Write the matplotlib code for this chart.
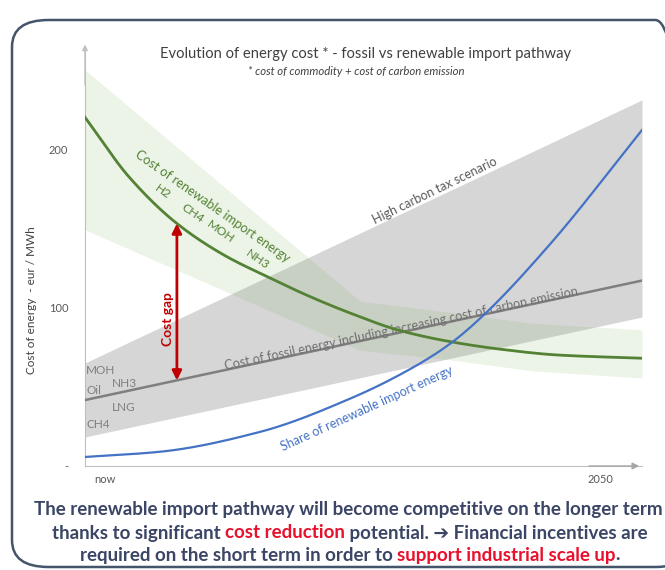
import numpy as np
import matplotlib.pyplot as plt
from matplotlib.patches import FancyBboxPatch

# x runs from 0 (left axis) to 100 (right end of data)
x_ticks = [3.6, 92.5]
x_tick_labels = ["now", "2050"]
y_ticks = [0, 100, 200]
y_tick_labels = ["-", "100", "200"]

# renewable import cost curve
ren_x = [0, 8, 16.5, 25, 33, 40, 47.6, 56.5, 65.5, 75, 85, 100]
ren_y = [220, 182, 153, 133, 119, 107.5, 96.5, 85.5, 78.5, 73.5, 70, 68]
# renewable uncertainty band
ren_band_x = [0, 49.4, 65.5, 80.4, 100]
ren_band_hi = [250, 104, 97, 90, 86]
ren_band_lo = [149, 73, 67, 60, 55.5]

# fossil cost line and band
fos_x = [0, 100]
fos_y = [41.6, 117]
fos_band_hi = [65, 231]
fos_band_lo = [18.3, 94]

# share of renewable import energy
share_x = [0, 13.5, 31.4, 47.6, 58.3, 65.5, 71.5, 83.5, 100]
share_y = [5.7, 9, 21.5, 42.5, 61, 77, 95, 140, 212]

gap_x = 16.5
gap_top = 153
gap_bottom = 54

plt.rcParams['font.family'] = ['Lato', 'DejaVu Sans']

fig = plt.figure(figsize=(6.65, 5.7), dpi=100)
ax = fig.add_axes([85 / 665, 1 - 466 / 570, 557 / 665, 420 / 570])

grid_x = np.linspace(0, 100, 400)


def smooth(xs, ys):
    # monotone cubic (Fritsch-Carlson) through the read points
    xs = np.asarray(xs, float)
    ys = np.asarray(ys, float)
    h = np.diff(xs)
    d = np.diff(ys) / h
    m = np.zeros_like(ys)
    m[0], m[-1] = d[0], d[-1]
    for i in range(1, len(xs) - 1):
        if d[i - 1] * d[i] > 0:
            w1 = 2 * h[i] + h[i - 1]
            w2 = h[i] + 2 * h[i - 1]
            m[i] = (w1 + w2) / (w1 / d[i - 1] + w2 / d[i])
    idx = np.clip(np.searchsorted(xs, grid_x) - 1, 0, len(xs) - 2)
    t = (grid_x - xs[idx]) / h[idx]
    h00 = 2 * t**3 - 3 * t**2 + 1
    h10 = t**3 - 2 * t**2 + t
    h01 = -2 * t**3 + 3 * t**2
    h11 = t**3 - t**2
    return (h00 * ys[idx] + h10 * h[idx] * m[idx] + h01 * ys[idx + 1]
            + h11 * h[idx] * m[idx + 1])


ax.fill_between(fos_x, fos_band_lo, fos_band_hi, color='#d6d6d6', lw=0, zorder=1)
ax.fill_between(ren_band_x, ren_band_lo, ren_band_hi, color='#5aa02c', alpha=0.11, lw=0, zorder=2)
ax.plot(fos_x, fos_y, color='#7f7f7f', lw=1.8, zorder=3)
ax.plot(grid_x, smooth(ren_x, ren_y), color='#548235', lw=2.0, zorder=4)
ax.plot(grid_x, smooth(share_x, share_y), color='#4472c4', lw=1.6, zorder=4)

ax.annotate('', xy=(gap_x, gap_top), xytext=(gap_x, gap_bottom),
            arrowprops=dict(arrowstyle='<|-|>', color='#c00000', lw=2,
                            mutation_scale=14, shrinkA=0, shrinkB=0), zorder=5)
ax.text(gap_x - 1.6, 93, 'Cost gap', rotation=90, color='#c00000', fontsize=10,
        fontweight='bold', ha='center', va='center')

ax.set_xlim(0, 100)
ax.set_ylim(0, 265)
ax.set_xticks(x_ticks, x_tick_labels)
ax.set_yticks(y_ticks, y_tick_labels)
ax.tick_params(length=0, labelsize=8, colors='#595959', pad=12)
ax.tick_params(axis='x', pad=6)
for s in ['top', 'right']:
    ax.spines[s].set_visible(False)
for s in ['left', 'bottom']:
    ax.spines[s].set_color('#bfbfbf')
ax.set_ylabel('Cost of energy  - eur / MWh', fontsize=8.5, color='#404040')
ax.yaxis.set_label_coords(-0.086, 0.395)

ax.annotate('', xy=(0, 1.01), xytext=(0, 0.9), xycoords='axes fraction',
            arrowprops=dict(arrowstyle='-|>', color='#bfbfbf', lw=1, mutation_scale=8))
ax.annotate('', xy=(1.0, 0), xytext=(0.9, 0), xycoords='axes fraction',
            arrowprops=dict(arrowstyle='-|>', color='#a6a6a6', lw=1, mutation_scale=10))

green = '#548235'
ax.text(22.8, 164, 'Cost of renewable import energy', rotation=-35, color=green,
        fontsize=9.3, ha='center', va='center', rotation_mode='anchor')
for lbl, xx, yy in [('H2', 13.9, 173), ('CH4', 19.3, 159.5), ('MOH', 24.4, 148), ('NH3', 31, 130)]:
    ax.text(xx, yy, lbl, rotation=-35, color=green, fontsize=8.8,
            ha='center', va='center', rotation_mode='anchor')

ax.text(62.8, 174, 'High carbon tax scenario', rotation=26, color='#595959',
        fontsize=9, ha='center', va='center', rotation_mode='anchor')
ax.text(56.8, 87, 'Cost of fossil energy including increasing cost of carbon emission',
        rotation=12, color='#6f6f6f', fontsize=9.1, ha='center', va='center',
        rotation_mode='anchor')
ax.text(50.6, 36, 'Share of renewable import energy', rotation=24.5, color='#4472c4',
        fontsize=9, ha='center', va='center', rotation_mode='anchor')

for lbl, xx, yy in [('MOH', 0.2, 60), ('NH3', 4.8, 52), ('Oil', 0.3, 47.5),
                    ('LNG', 4.9, 37), ('CH4', 0.3, 26)]:
    ax.text(xx, yy, lbl, color='#7f7f7f', fontsize=8.5, ha='left', va='center')

fig.text(366 / 665, 1 - 54 / 570, 'Evolution of energy cost * - fossil vs renewable import pathway',
         fontsize=10.6, color='#404040', ha='center', va='center')
fig.text(356 / 665, 1 - 72 / 570, '* cost of commodity + cost of carbon emission',
         fontsize=8.2, style='italic', color='#404040', ha='center', va='center')

navy = '#3b4565'
red = '#e8112d'
fs = 13.5
fig.text(348 / 665, 1 - 510 / 570,
         'The renewable import pathway will become competitive on the longer term',
         fontsize=fs, fontweight='bold', color=navy, ha='center', va='center')


def line_parts(y, parts):
    # lay out coloured pieces side by side, centred on the figure
    r = fig.canvas.get_renderer()
    texts = []
    for s, c in parts:
        t = fig.text(0, y, s, fontsize=fs, fontweight='bold', color=c, va='center',
                     family=['Lato', 'DejaVu Sans'])
        texts.append(t)
    widths = [t.get_window_extent(r).width for t in texts]
    total = sum(widths)
    x0 = (350 - total / 2)
    for t, w in zip(texts, widths):
        t.set_x(x0 / 665)
        x0 += w


line_parts(1 - 533 / 570, [('thanks to significant ', navy), ('cost reduction', red),
                           (' potential. \u2794 Financial incentives are', navy)])
line_parts(1 - 555 / 570, [('required on the short term in order to ', navy),
                           ('support industrial scale up', red), ('.', navy)])

box = FancyBboxPatch((12 / 665, 1 - 567 / 570), 680 / 665, 547 / 570,
                     boxstyle='round,pad=0,rounding_size=0.055', transform=fig.transFigure,
                     fill=False, edgecolor='#44546a', lw=1.8, mutation_aspect=570 / 665)
fig.patches.append(box)

fig.savefig('out.png', dpi=100)
